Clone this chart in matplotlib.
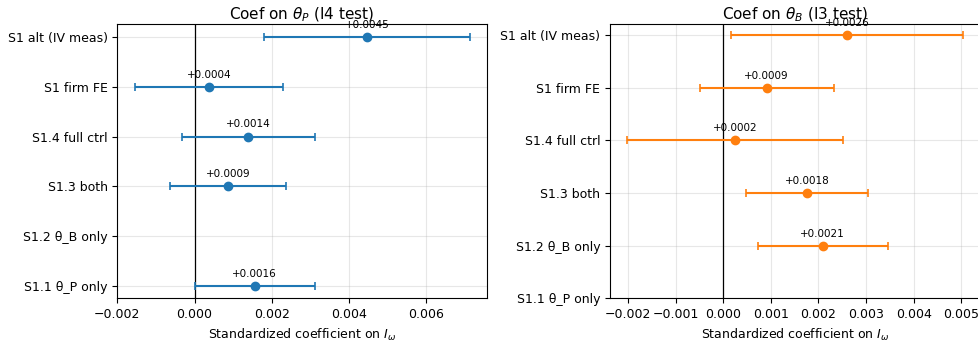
import numpy as np
import matplotlib
matplotlib.use("Agg")
import matplotlib.pyplot as plt

specs = ["S1.1 θ_P only", "S1.2 θ_B only", "S1.3 both", "S1.4 full ctrl", "S1 firm FE", "S1 alt (IV meas)"]

# Panel 1: coef on theta_P (I4 test)
coef_P = [0.00156, np.nan, 0.00087, 0.00139, 0.00037, 0.00447]
ci_P = [0.00156, np.nan, 0.00150, 0.00172, 0.00192, 0.00266]

# Panel 2: coef on theta_B (I3 test)
coef_B = [np.nan, 0.00209, 0.00176, 0.00024, 0.00091, 0.00260]
ci_B = [np.nan, 0.00137, 0.00128, 0.00227, 0.00141, 0.00243]

fig = plt.figure(figsize=(9.79, 3.41), dpi=100)
ax1 = fig.add_axes([0.1198, 0.1252, 0.3773, 0.803])
ax2 = fig.add_axes([0.6231, 0.1252, 0.3773, 0.803])

panels = [
    (ax1, coef_P, ci_P, "#1f77b4", r"Coef on $\theta_P$ (I4 test)"),
    (ax2, coef_B, ci_B, "#ff7f0e", r"Coef on $\theta_B$ (I3 test)"),
]

for ax, coef, ci, color, title in panels:
    y = np.arange(len(specs))
    c = np.array(coef, dtype=float)
    e = np.array(ci, dtype=float)
    m = ~np.isnan(c)
    ax.axvline(0, color='k', lw=0.9, zorder=1)
    ax.errorbar(c[m], y[m], xerr=e[m], fmt='o', color=color, capsize=3,
                markersize=6, elinewidth=1.5, capthick=1.2, zorder=3)
    for xi, yi in zip(c[m], y[m]):
        ax.annotate(f"{xi:+.4f}", (xi, yi), xytext=(0, 6.5), textcoords='offset points',
                    ha='center', va='baseline', fontsize=7.5)
    ax.set_yticks(y)
    ax.set_yticklabels(specs, fontsize=9)
    ax.tick_params(axis='x', labelsize=9)
    ax.grid(True, alpha=0.3)
    ax.set_axisbelow(True)
    ax.set_xlabel(r"Standardized coefficient on $I_\omega$", fontsize=9)
    ax.set_title(title, fontsize=11, pad=3)

ax1.set_xlim(left=-0.002)

fig.savefig("out.png", dpi=100)
